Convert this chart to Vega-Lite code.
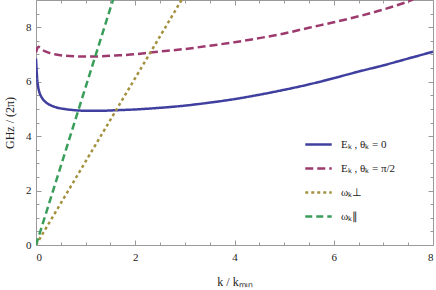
{
  "$schema": "https://vega.github.io/schema/vega-lite/v6.json",
  "width": 397,
  "height": 245,
  "autosize": {"type": "none"},
  "padding": {"left": 36, "top": 0, "right": 3, "bottom": 45},
  "config": {
    "view": {"stroke": "#9a9a9a", "strokeWidth": 1},
    "font": "Liberation Serif, Times New Roman, serif",
    "axis": {
      "grid": false,
      "domain": false,
      "tickColor": "#9a9a9a",
      "tickWidth": 1,
      "labelFont": "Liberation Serif, Times New Roman, serif",
      "labelFontSize": 11,
      "labelColor": "#222222",
      "titleFont": "Liberation Serif, Times New Roman, serif",
      "titleFontWeight": "normal",
      "titleFontSize": 12,
      "titleColor": "#222222",
      "format": "d"
    },
    "legend": {
      "orient": "none",
      "legendX": 268,
      "legendY": 130,
      "padding": 0,
      "symbolType": "stroke",
      "symbolSize": 700,
      "symbolStrokeWidth": 2.5,
      "rowPadding": 4,
      "labelFont": "Liberation Serif, Times New Roman, serif",
      "labelFontSize": 11,
      "labelColor": "#222222",
      "labelOffset": 8
    }
  },
  "data": {
    "values": [
      {"series": "Eₖ ,  θₖ = 0", "k": 0, "v": 6.85},
      {"series": "Eₖ ,  θₖ = 0", "k": 0.02, "v": 6.2},
      {"series": "Eₖ ,  θₖ = 0", "k": 0.04, "v": 5.85},
      {"series": "Eₖ ,  θₖ = 0", "k": 0.07, "v": 5.6},
      {"series": "Eₖ ,  θₖ = 0", "k": 0.1, "v": 5.47},
      {"series": "Eₖ ,  θₖ = 0", "k": 0.15, "v": 5.33},
      {"series": "Eₖ ,  θₖ = 0", "k": 0.2, "v": 5.24},
      {"series": "Eₖ ,  θₖ = 0", "k": 0.3, "v": 5.13},
      {"series": "Eₖ ,  θₖ = 0", "k": 0.4, "v": 5.06},
      {"series": "Eₖ ,  θₖ = 0", "k": 0.6, "v": 4.99},
      {"series": "Eₖ ,  θₖ = 0", "k": 0.8, "v": 4.95},
      {"series": "Eₖ ,  θₖ = 0", "k": 1.0, "v": 4.93},
      {"series": "Eₖ ,  θₖ = 0", "k": 1.3, "v": 4.93},
      {"series": "Eₖ ,  θₖ = 0", "k": 1.6, "v": 4.95},
      {"series": "Eₖ ,  θₖ = 0", "k": 2.0, "v": 4.98},
      {"series": "Eₖ ,  θₖ = 0", "k": 2.5, "v": 5.04},
      {"series": "Eₖ ,  θₖ = 0", "k": 3.0, "v": 5.12},
      {"series": "Eₖ ,  θₖ = 0", "k": 3.5, "v": 5.23},
      {"series": "Eₖ ,  θₖ = 0", "k": 4.0, "v": 5.36},
      {"series": "Eₖ ,  θₖ = 0", "k": 4.5, "v": 5.52},
      {"series": "Eₖ ,  θₖ = 0", "k": 5.0, "v": 5.7},
      {"series": "Eₖ ,  θₖ = 0", "k": 5.5, "v": 5.9},
      {"series": "Eₖ ,  θₖ = 0", "k": 6.0, "v": 6.13},
      {"series": "Eₖ ,  θₖ = 0", "k": 6.5, "v": 6.37},
      {"series": "Eₖ ,  θₖ = 0", "k": 7.0, "v": 6.6},
      {"series": "Eₖ ,  θₖ = 0", "k": 7.5, "v": 6.85},
      {"series": "Eₖ ,  θₖ = 0", "k": 8.0, "v": 7.1},
      {"series": "Eₖ ,  θₖ = π/2", "k": 0, "v": 7.07},
      {"series": "Eₖ ,  θₖ = π/2", "k": 0.02, "v": 7.2},
      {"series": "Eₖ ,  θₖ = π/2", "k": 0.05, "v": 7.28},
      {"series": "Eₖ ,  θₖ = π/2", "k": 0.08, "v": 7.25},
      {"series": "Eₖ ,  θₖ = π/2", "k": 0.12, "v": 7.18},
      {"series": "Eₖ ,  θₖ = π/2", "k": 0.2, "v": 7.1},
      {"series": "Eₖ ,  θₖ = π/2", "k": 0.3, "v": 7.04},
      {"series": "Eₖ ,  θₖ = π/2", "k": 0.4, "v": 7.0},
      {"series": "Eₖ ,  θₖ = π/2", "k": 0.6, "v": 6.95},
      {"series": "Eₖ ,  θₖ = π/2", "k": 0.8, "v": 6.93},
      {"series": "Eₖ ,  θₖ = π/2", "k": 1.0, "v": 6.92},
      {"series": "Eₖ ,  θₖ = π/2", "k": 1.3, "v": 6.93},
      {"series": "Eₖ ,  θₖ = π/2", "k": 1.6, "v": 6.96},
      {"series": "Eₖ ,  θₖ = π/2", "k": 2.0, "v": 7.01},
      {"series": "Eₖ ,  θₖ = π/2", "k": 2.3, "v": 7.07},
      {"series": "Eₖ ,  θₖ = π/2", "k": 3.0, "v": 7.2},
      {"series": "Eₖ ,  θₖ = π/2", "k": 3.5, "v": 7.32},
      {"series": "Eₖ ,  θₖ = π/2", "k": 4.0, "v": 7.45},
      {"series": "Eₖ ,  θₖ = π/2", "k": 4.5, "v": 7.6},
      {"series": "Eₖ ,  θₖ = π/2", "k": 5.0, "v": 7.77},
      {"series": "Eₖ ,  θₖ = π/2", "k": 5.5, "v": 7.98},
      {"series": "Eₖ ,  θₖ = π/2", "k": 6.0, "v": 8.18},
      {"series": "Eₖ ,  θₖ = π/2", "k": 6.5, "v": 8.4},
      {"series": "Eₖ ,  θₖ = π/2", "k": 7.0, "v": 8.65},
      {"series": "Eₖ ,  θₖ = π/2", "k": 7.5, "v": 8.95},
      {"series": "Eₖ ,  θₖ = π/2", "k": 7.6, "v": 9.02},
      {"series": "ωₖ⊥", "k": 0, "v": 0},
      {"series": "ωₖ⊥", "k": 2.95, "v": 9.05},
      {"series": "ωₖ∥", "k": 0, "v": 0},
      {"series": "ωₖ∥", "k": 1.56, "v": 9.05}
    ]
  },
  "layer": [
    {
      "mark": {"type": "line", "strokeWidth": 2.5, "clip": true, "interpolate": "monotone"},
      "encoding": {
        "x": {
          "field": "k", "type": "quantitative",
          "scale": {"domain": [0, 8], "nice": false, "zero": false},
          "axis": {
            "orient": "bottom",
            "title": "k / kₘᵢₙ",
            "values": [0,0.5,1,1.5,2,2.5,3,3.5,4,4.5,5,5.5,6,6.5,7,7.5,8],
            "labelExpr": "datum.value % 2 === 0 ? datum.label : ''",
            "tickSize": {"condition": {"test": "datum.value % 2 === 0", "value": -5}, "value": -3},
            "labelPadding": 11,
            "titlePadding": 14
          }
        },
        "y": {
          "field": "v", "type": "quantitative",
          "scale": {"domain": [0, 9], "nice": false},
          "axis": {
            "orient": "left",
            "title": "GHz / (2π)",
            "values": [0,0.5,1,1.5,2,2.5,3,3.5,4,4.5,5,5.5,6,6.5,7,7.5,8,8.5],
            "labelExpr": "datum.value % 2 === 0 ? datum.label : ''",
            "tickSize": {"condition": {"test": "datum.value % 2 === 0", "value": -5}, "value": -3},
            "labelPadding": 10,
            "titlePadding": 9
          }
        },
        "color": {
          "field": "series", "type": "nominal",
          "scale": {
            "domain": ["Eₖ ,  θₖ = 0", "Eₖ ,  θₖ = π/2", "ωₖ⊥", "ωₖ∥"],
            "range": ["#3f3f9f", "#9c3a6e", "#a39140", "#3a9e5a"]
          },
          "legend": {"title": null}
        },
        "strokeDash": {
          "field": "series", "type": "nominal",
          "scale": {
            "domain": ["Eₖ ,  θₖ = 0", "Eₖ ,  θₖ = π/2", "ωₖ⊥", "ωₖ∥"],
            "range": [[1, 0], [8, 4], [3, 3], [7, 4]]
          },
          "legend": {"title": null}
        }
      }
    },
    {
      "mark": {"type": "point", "opacity": 0},
      "encoding": {
        "x": {
          "field": "k", "type": "quantitative",
          "axis": {
            "orient": "top", "title": null, "labels": false,
            "values": [0,0.5,1,1.5,2,2.5,3,3.5,4,4.5,5,5.5,6,6.5,7,7.5,8],
            "tickSize": {"condition": {"test": "datum.value % 2 === 0", "value": -5}, "value": -3}
          }
        },
        "y": {
          "field": "v", "type": "quantitative",
          "axis": {
            "orient": "right", "title": null, "labels": false,
            "values": [0,0.5,1,1.5,2,2.5,3,3.5,4,4.5,5,5.5,6,6.5,7,7.5,8,8.5],
            "tickSize": {"condition": {"test": "datum.value % 2 === 0", "value": -5}, "value": -3}
          }
        }
      }
    }
  ],
  "resolve": {"axis": {"x": "independent", "y": "independent"}}
}
